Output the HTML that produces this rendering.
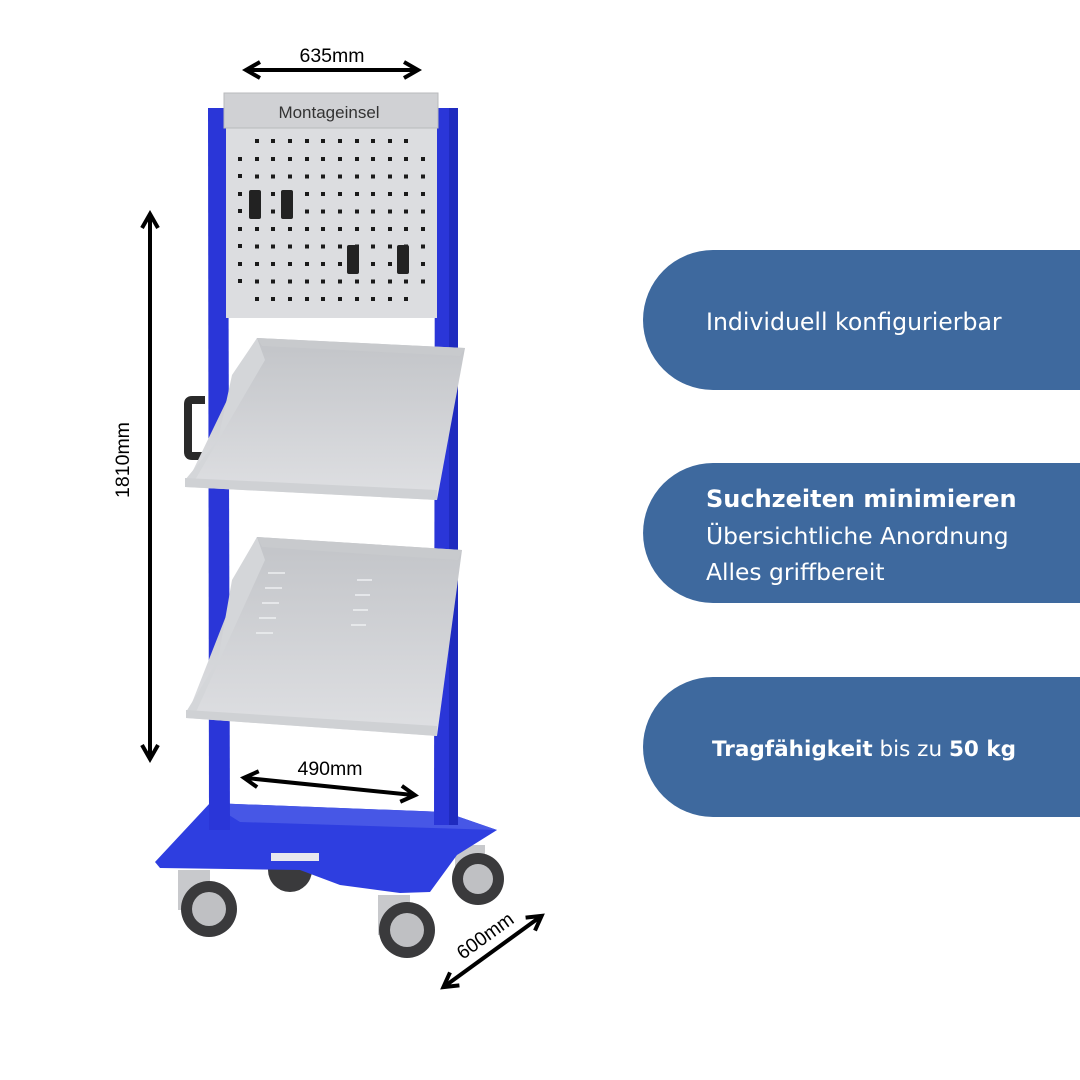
<!DOCTYPE html>
<html><head><meta charset="utf-8"><style>
html,body{margin:0;padding:0;background:#fff;width:1080px;height:1080px;overflow:hidden}
svg{display:block}
</style></head><body>
<svg width="1080" height="1080" viewBox="0 0 1080 1080" xmlns="http://www.w3.org/2000/svg" font-family="Liberation Sans, DejaVu Sans, sans-serif">
<defs>
<marker id="ah" viewBox="0 0 10 10" refX="7" refY="5" markerWidth="5" markerHeight="5" orient="auto-start-reverse">
<path d="M1,1 L8,5 L1,9" fill="none" stroke="#000" stroke-width="2"/>
</marker>
<linearGradient id="tray" x1="0" y1="0" x2="0" y2="1"><stop offset="0" stop-color="#c2c4c8"/><stop offset="1" stop-color="#dfe0e3"/></linearGradient>
</defs>

<!-- pills -->
<g fill="#3e699e">
<path d="M713,250 H1080 V390 H713 A70,70 0 0 1 713,250 Z"/>
<path d="M713,463 H1080 V603 H713 A70,70 0 0 1 713,463 Z"/>
<path d="M713,677 H1080 V817 H713 A70,70 0 0 1 713,677 Z"/>
</g>
<g fill="#fff" font-family="DejaVu Sans, Liberation Sans, sans-serif">
<text x="706" y="330" font-size="23.6">Individuell konfigurierbar</text>
<text x="706" y="507" font-size="24" font-weight="bold">Suchzeiten minimieren</text>
<text x="706" y="544" font-size="23.4">Übersichtliche Anordnung</text>
<text x="706" y="580" font-size="23.4">Alles griffbereit</text>
<text x="712" y="756" font-size="21.5"><tspan font-weight="bold">Tragfähigkeit</tspan> bis zu <tspan font-weight="bold">50 kg</tspan></text>
</g>

<!-- wheels -->
<g>
<rect x="178" y="870" width="32" height="40" fill="#c8c9cc"/>
<circle cx="209" cy="909" r="28" fill="#3a3a3c"/><circle cx="209" cy="909" r="17" fill="#bfc0c3"/>
<circle cx="290" cy="870" r="22" fill="#3a3a3c"/>
<rect x="378" y="895" width="32" height="40" fill="#c8c9cc"/>
<circle cx="407" cy="930" r="28" fill="#3a3a3c"/><circle cx="407" cy="930" r="17" fill="#bfc0c3"/>
<rect x="455" y="845" width="30" height="30" fill="#c8c9cc"/>
<circle cx="478" cy="879" r="26" fill="#3a3a3c"/><circle cx="478" cy="879" r="15" fill="#bfc0c3"/>
</g>
<!-- base -->
<path d="M210,803 L445,812 L497,830 L457,855 L430,892 L400,893 L340,885 L300,870 L160,868 L155,862 Z" fill="#2e3ee0"/>
<path d="M210,803 L445,812 L497,830 L240,822 Z" fill="#4757e6"/>
<rect x="271" y="853" width="48" height="8" fill="#e8e8ee"/>

<!-- uprights -->
<path d="M208,108 L228,108 L230,830 L209,830 Z" fill="#2a36d8"/>
<path d="M435,108 L458,108 L457,825 L434,825 Z" fill="#2a36d8"/>
<rect x="449" y="108" width="9" height="717" fill="#1f2bbf"/>

<!-- pegboard -->
<rect x="226" y="120" width="211" height="198" fill="#dcdde0"/>
<rect x="224" y="93" width="214" height="35" fill="#d0d1d4" stroke="#b9babd"/>
<text x="329" y="118" text-anchor="middle" font-size="17" fill="#333">Montageinsel</text>

<!-- handle -->
<path d="M205,400 L192,400 Q188,400 188,404 L188,452 Q188,456 192,456 L205,456" fill="none" stroke="#2a2a2a" stroke-width="8"/>

<!-- tray 1 -->
<path d="M257,338 L465,348 L437,500 L185,487 Z" fill="url(#tray)"/>
<path d="M257,338 L232,375 L218,440 L185,480 L195,480 L265,360 Z" fill="#d4d6d9"/>
<path d="M185,478 L437,490 L437,500 L185,487 Z" fill="#cfd1d4"/>
<path d="M257,338 L465,348 L460,356 L262,346 Z" fill="#c8cacd"/>
<!-- tray 2 -->
<path d="M257,537 L462,550 L437,736 L186,718 Z" fill="url(#tray)"/>
<path d="M257,537 L232,580 L218,660 L186,712 L196,712 L265,560 Z" fill="#d4d6d9"/>
<path d="M186,710 L437,726 L437,736 L186,718 Z" fill="#cfd1d4"/>
<path d="M257,537 L462,550 L458,560 L262,547 Z" fill="#c8cacd"/>
<g stroke="#eef0f2" stroke-width="1.5">
<line x1="268" y1="573" x2="285" y2="573"/><line x1="265" y1="588" x2="282" y2="588"/><line x1="262" y1="603" x2="279" y2="603"/><line x1="259" y1="618" x2="276" y2="618"/><line x1="256" y1="633" x2="273" y2="633"/>
<line x1="357" y1="580" x2="372" y2="580"/><line x1="355" y1="595" x2="370" y2="595"/><line x1="353" y1="610" x2="368" y2="610"/><line x1="351" y1="625" x2="366" y2="625"/>
</g>

<!-- dimension arrows -->
<g stroke="#000" stroke-width="4" fill="none" marker-start="url(#ah)" marker-end="url(#ah)">
<line x1="248" y1="70" x2="416" y2="70"/>
<line x1="150" y1="216" x2="150" y2="757"/>
<line x1="246" y1="778" x2="413" y2="795"/>
<line x1="445" y1="986" x2="540" y2="917"/>
</g>
<g font-size="19.5" fill="#000">
<text x="332" y="62" text-anchor="middle">635mm</text>
<text x="330" y="775" text-anchor="middle">490mm</text>
<text transform="translate(129,460) rotate(-90)" text-anchor="middle">1810mm</text>
<text transform="translate(489,941) rotate(-36)" text-anchor="middle">600mm</text>
</g>

<!-- holes -->
<g fill="#1a1a1a">
<rect x="238" y="157" width="4" height="4"/><rect x="238" y="174" width="4" height="4"/><rect x="238" y="192" width="4" height="4"/><rect x="238" y="209" width="4" height="4"/><rect x="238" y="227" width="4" height="4"/><rect x="238" y="244" width="4" height="4"/><rect x="238" y="262" width="4" height="4"/><rect x="238" y="279" width="4" height="4"/>
<rect x="255" y="139" width="4" height="4"/><rect x="271" y="139" width="4" height="4"/><rect x="288" y="139" width="4" height="4"/><rect x="305" y="139" width="4" height="4"/><rect x="321" y="139" width="4" height="4"/><rect x="338" y="139" width="4" height="4"/><rect x="355" y="139" width="4" height="4"/><rect x="371" y="139" width="4" height="4"/><rect x="388" y="139" width="4" height="4"/><rect x="404" y="139" width="4" height="4"/>
<rect x="255" y="297" width="4" height="4"/><rect x="271" y="297" width="4" height="4"/><rect x="288" y="297" width="4" height="4"/><rect x="305" y="297" width="4" height="4"/><rect x="321" y="297" width="4" height="4"/><rect x="338" y="297" width="4" height="4"/><rect x="355" y="297" width="4" height="4"/><rect x="371" y="297" width="4" height="4"/><rect x="388" y="297" width="4" height="4"/><rect x="404" y="297" width="4" height="4"/>
<g id="r"><rect x="255" y="157" width="4" height="4"/><rect x="271" y="157" width="4" height="4"/><rect x="288" y="157" width="4" height="4"/><rect x="305" y="157" width="4" height="4"/><rect x="321" y="157" width="4" height="4"/><rect x="338" y="157" width="4" height="4"/><rect x="355" y="157" width="4" height="4"/><rect x="371" y="157" width="4" height="4"/><rect x="388" y="157" width="4" height="4"/><rect x="404" y="157" width="4" height="4"/><rect x="421" y="157" width="4" height="4"/></g>
<use href="#r" y="17.5"/><use href="#r" y="35"/><use href="#r" y="52.5"/><use href="#r" y="70"/><use href="#r" y="87.5"/><use href="#r" y="105"/><use href="#r" y="122.5"/>
</g>
<g fill="#222">
<rect x="249" y="190" width="12" height="29" rx="2"/><rect x="281" y="190" width="12" height="29" rx="2"/>
<rect x="347" y="245" width="12" height="29" rx="2"/><rect x="397" y="245" width="12" height="29" rx="2"/>
</g>
</svg>
</body></html>
